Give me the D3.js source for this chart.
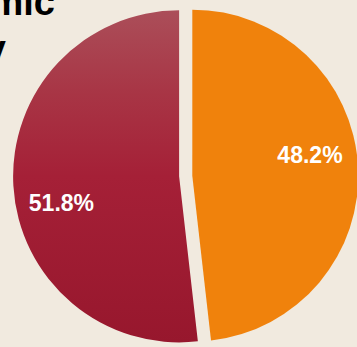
<!DOCTYPE html>
<html>
<head>
<meta charset="utf-8">
<script src="https://cdn.jsdelivr.net/npm/d3@7"></script>
<style>
  html, body { margin: 0; padding: 0; background: #f1eadf; }
  svg { display: block; }
</style>
</head>
<body>
<svg id="chart" width="357" height="347"></svg>
<script>
// Share of the two groups
const categories = ["Group B", "Group A"];
const shares = [48.2, 51.8];
const sliceColors = ["#f0820c", "url(#redFade)"];
const titleLines = ["Economic", "Activity"];

const width = 357, height = 347;
const cx = 185.7, cy = 176;
const radius = 166;
const explode = 6.6;

const svg = d3.select("#chart");

// vertical fade on the red slice: muted rose at the top, deep crimson below
// (coordinates are local to the slice group, centred on the pie)
const defs = svg.append("defs");
const grad = defs.append("linearGradient")
  .attr("id", "redFade")
  .attr("gradientUnits", "userSpaceOnUse")
  .attr("x1", 0).attr("y1", -radius)
  .attr("x2", 0).attr("y2", radius);
grad.append("stop").attr("offset", "0%").attr("stop-color", "#ab4e59");
grad.append("stop").attr("offset", "25%").attr("stop-color", "#a83545");
grad.append("stop").attr("offset", "50%").attr("stop-color", "#a52037");
grad.append("stop").attr("offset", "100%").attr("stop-color", "#97172d");

const pie = d3.pie().sort(null).value(d => d)(shares);
const arc = d3.arc().innerRadius(0).outerRadius(radius);

const g = svg.append("g");

const slices = g.selectAll("g.slice")
  .data(pie)
  .join("g")
  .attr("class", "slice")
  .attr("transform", d => {
    const mid = (d.startAngle + d.endAngle) / 2;
    return `translate(${cx + explode * Math.sin(mid)},${cy - explode * Math.cos(mid)})`;
  });

slices.append("path")
  .attr("d", arc)
  .attr("fill", (d, i) => sliceColors[i]);

// percentage labels, nudged a little counter-clockwise from the slice middle
const labelRadius = 120;
const labelShift = -8 * Math.PI / 180;
slices.append("text")
  .attr("x", d => labelRadius * Math.sin((d.startAngle + d.endAngle) / 2 + labelShift))
  .attr("y", d => -labelRadius * Math.cos((d.startAngle + d.endAngle) / 2 + labelShift) + 3)
  .attr("text-anchor", "middle")
  .attr("dominant-baseline", "central")
  .attr("font-family", "'Liberation Sans', Arial, sans-serif")
  .attr("font-weight", "bold")
  .attr("font-size", 23)
  .attr("fill", "#ffffff")
  .text(d => d3.format(".1f")(d.data) + "%");

// title, running off the left edge
svg.append("text")
  .attr("font-family", "'Liberation Sans', Arial, sans-serif")
  .attr("font-weight", "bold")
  .attr("font-size", 38)
  .attr("fill", "#000")
  .selectAll("tspan")
  .data(titleLines)
  .join("tspan")
  .attr("x", (d, i) => i === 0 ? 55 : 6)
  .attr("y", (d, i) => i === 0 ? 15 : 62)
  .attr("text-anchor", "end")
  .text(d => d);
</script>
</body>
</html>
